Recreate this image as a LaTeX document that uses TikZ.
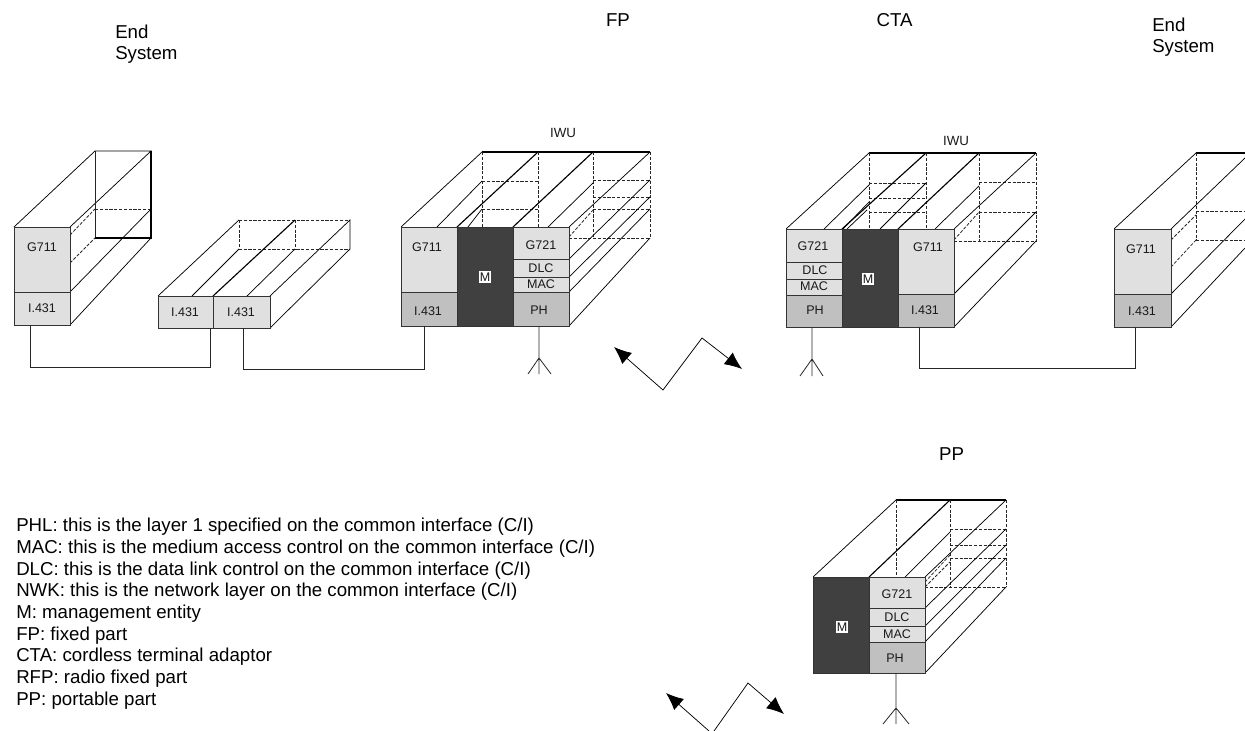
\documentclass[tikz,border=0pt]{standalone}
\usepackage{fontspec}
\setmainfont{Liberation Sans}
\usetikzlibrary{calc,arrows.meta}
\definecolor{lightg}{HTML}{E0E0E0}
\definecolor{midg}{HTML}{C0C0C0}
\definecolor{darkg}{HTML}{404040}
\tikzset{
  thin line/.style={line width=.55pt,black},
  heavy/.style={line width=.85pt,black},
  hid/.style={line width=.6pt,black!85,dash pattern=on 2.4pt off 1.2pt},
  wire/.style={line width=.6pt,black!85},
  zig/.style={line width=.55pt,black,{Latex[length=13pt,width=11pt]}-{Latex[length=13pt,width=11pt]}},
  layer/.style={draw=black!80,line width=.7pt,inner sep=0pt,outer sep=0pt},
  lab/.style={font=\fontsize{9.4pt}{10pt}\selectfont,inner sep=0pt,text=black!90},
  mlab/.style={font=\fontsize{9.4pt}{10pt}\selectfont,inner xsep=.8pt,inner ysep=1.6pt,fill=white,text=black!90},
  iwulab/.style={font=\fontsize{10pt}{10pt}\selectfont,inner sep=0pt,text=black!90},
  title/.style={font=\fontsize{14pt}{15.75pt}\selectfont,inner sep=0pt,align=left,anchor=west},
}
\newcommand{\lay}[6]{%
  \pgfmathsetmacro{\lw}{(#4-#2)*0.75}\pgfmathsetmacro{\lh}{(#5-#3)*0.75}%
  \pgfmathsetmacro{\lcx}{(#4+#2)/2}\pgfmathsetmacro{\lcy}{(#5+#3)/2}%
  \node[layer,fill=#6,minimum width=\lw pt,minimum height=\lh pt] (#1) at (\lcx,\lcy) {};}
\begin{document}
\begin{tikzpicture}[x=.75pt,y=-.75pt]
\useasboundingbox (0,0) rectangle (1245,731);

% titles
\node[title] (t1) at (115,44) {End\\System};
\node[title,anchor=center] (t2) at (618,20) {FP};
\node[title,anchor=center] (t3) at (894.5,20) {CTA};
\node[title] (t4) at (1152,37) {End\\System};
\node[title,anchor=center] (t5) at (951.5,454) {PP};
\node[iwulab] (iwu1) at (563,133) {IWU};
\node[iwulab] (iwu2) at (956,141) {IWU};

% --- End system, left
\draw[thin line] (14,227)--(95,151)--(151,151)--(70,227);
\draw[wire] (95,151)--(95,238);
\draw[heavy] (151,151)--(151,238)--(95,238);
\draw[hid] (95,209)--(151,209);
\draw[thin line] (70,292)--(151,209) (70,325)--(151,238);
\draw[hid] (70,235)--(95,209) (70,263)--(95,238);
\lay{e1g}{14}{227}{70}{292}{lightg}
\lay{e1i}{14}{292}{70}{325}{lightg}
\node[lab] (e1gt) at (42,247) {G711};
\node[lab] (e1it) at (42,308) {I.431};

% --- intermediate system
\draw[hid] (239,220)--(239,249)--(350,249) (295,220)--(295,249) (239,220)--(350,220);
\draw[thin line] (158,296)--(239,220) (270,296)--(350,220)--(350,249)--(270,328);
\draw[heavy] (213,296)--(295,220);
\draw[thin line] (192,296)--(239,249) (247,296)--(295,249);
\lay{m1}{158}{296}{213}{328}{lightg}
\lay{m2}{213}{296}{270}{328}{lightg}
\node[lab] (m1t) at (185,312) {I.431};
\node[lab] (m2t) at (241,312) {I.431};

% --- FP
\draw[heavy] (482,152)--(650,152);
\draw[hid] (482,152)--(482,227) (538,152)--(538,227) (593,152)--(593,238);
\draw[hid] (482,181)--(538,181) (482,209)--(538,209);
\draw[hid] (593,180)--(650,180) (593,197)--(650,197) (593,209)--(650,209) (569,238)--(650,238) (650,152)--(650,238);
\draw[thin line] (401,227)--(482,152) (569,227)--(650,152);
\draw[heavy] (457,227)--(538,152) (513,227)--(593,152);
\draw[thin line] (437,227)--(482,181) (468,227)--(482,209) (548,227)--(593,183);
\draw[hid] (569,237)--(593,210);
\draw[thin line] (569,259)--(650,180) (569,277)--(650,197) (569,292)--(650,209) (569,326)--(650,238);
\lay{f1}{401}{227}{457}{292}{lightg}
\lay{f2}{401}{292}{457}{326}{midg}
\lay{f3}{457}{227}{513}{326}{darkg}
\lay{f4}{513}{227}{569}{259}{lightg}
\lay{f5}{513}{259}{569}{277}{lightg}
\lay{f6}{513}{277}{569}{292}{lightg}
\lay{f7}{513}{292}{569}{326}{midg}
\node[lab] (f1t) at (427,247) {G711};
\node[lab] (f2t) at (428,311) {I.431};
\node[mlab] (f3t) at (485,277) {M};
\node[lab] (f4t) at (541,245) {G721};
\node[lab] (f5t) at (541,268) {DLC};
\node[lab] (f6t) at (541,284) {MAC};
\node[lab] (f7t) at (539,310) {PH};

% --- CTA
\draw[heavy] (869,153)--(1036,153);
\draw[hid] (869,153)--(869,229) (926,153)--(926,229) (979,153)--(979,241);
\draw[hid] (869,183)--(926,183) (869,198)--(926,198) (869,212)--(926,212);
\draw[hid] (979,182)--(1036,182) (979,212)--(1036,212) (954,241)--(1036,241) (1036,153)--(1036,241);
\draw[thin line] (786,229)--(869,153) (954,229)--(1036,153);
\draw[heavy] (842,229)--(926,153) (898,229)--(979,153);
\draw[thin line] (824,229)--(869,185) (843,229)--(869,202) (847,229)--(867,210) (880,229)--(926,183) (935,229)--(979,186);
\draw[hid] (954,240)--(979,212);
\draw[thin line] (954,294)--(1036,212) (954,327)--(1036,241);
\lay{c1}{786}{229}{842}{262}{lightg}
\lay{c2}{786}{262}{842}{279}{lightg}
\lay{c3}{786}{279}{842}{295}{lightg}
\lay{c4}{786}{295}{842}{327}{midg}
\lay{c5}{842}{229}{898}{327}{darkg}
\lay{c6}{898}{229}{954}{294}{lightg}
\lay{c7}{898}{294}{954}{327}{midg}
\node[lab] (c1t) at (813,246) {G721};
\node[lab] (c2t) at (815,270) {DLC};
\node[lab] (c3t) at (814,286) {MAC};
\node[lab] (c4t) at (815,310) {PH};
\node[mlab] (c5t) at (868,279) {M};
\node[lab] (c6t) at (928,247) {G711};
\node[lab] (c7t) at (925,310) {I.431};

% --- End system, right
\draw[heavy] (1196,153)--(1245,153);
\draw[hid] (1196,153)--(1196,240) (1196,211)--(1245,211) (1196,240)--(1245,240);
\draw[thin line] (1114,229)--(1196,153) (1171,229)--(1245,158) (1171,294)--(1245,219) (1171,327)--(1245,248);
\draw[hid] (1171,240)--(1196,215) (1171,267)--(1196,240);
\lay{e2g}{1114}{229}{1171}{294}{lightg}
\lay{e2i}{1114}{294}{1171}{327}{midg}
\node[lab] (e2gt) at (1141,249) {G711};
\node[lab] (e2it) at (1142,311) {I.431};

% --- PP
\draw[heavy] (896,500)--(1006,500);
\draw[hid] (896,500)--(896,577) (950,500)--(950,587);
\draw[hid] (950,529)--(1006,529) (950,545)--(1006,545) (950,558)--(1006,558) (925,587)--(1006,587) (1006,500)--(1006,587);
\draw[thin line] (813,577)--(896,500) (925,577)--(1006,500);
\draw[heavy] (869,577)--(950,500);
\draw[thin line] (905,577)--(950,532);
\draw[hid] (925,582)--(950,555) (925,587)--(950,562);
\draw[thin line] (925,608)--(1006,529) (925,626)--(1006,545) (925,642)--(1006,558) (925,673)--(1006,587);
\lay{p1}{813}{577}{869}{673}{darkg}
\lay{p2}{869}{577}{925}{608}{lightg}
\lay{p3}{869}{608}{925}{626}{lightg}
\lay{p4}{869}{626}{925}{642}{lightg}
\lay{p5}{869}{642}{925}{673}{midg}
\node[mlab] (p1t) at (842,627) {M};
\node[lab] (p2t) at (897,594) {G721};
\node[lab] (p3t) at (897,617) {DLC};
\node[lab] (p4t) at (897,634) {MAC};
\node[lab] (p5t) at (895,658) {PH};

% --- wires
\draw[wire] ($(e1i.south west)!.3!(e1i.south east)$) -- ++(0,42) -| ($(m1.south west)!.945!(m1.south east)$);
\draw[wire] ($(m2.south west)!.54!(m2.south east)$) -- ++(0,41) -| ($(f2.south west)!.41!(f2.south east)$);
\draw[wire] ($(c7.south west)!.375!(c7.south east)$) -- ++(0,41) -| ($(e2i.south west)!.37!(e2i.south east)$);

% --- antennas
\coordinate (fa) at (539,358); \coordinate (fal) at (528,374); \coordinate (far) at (551,374); \coordinate (fab) at (539,374);
\draw[wire] (f7.south -| fa) -- (fab) (fal) -- (fa) -- (far);
\coordinate (ca) at (812,359); \coordinate (cal) at (800,376); \coordinate (car) at (823,376); \coordinate (cab) at (812,376);
\draw[wire] (c4.south -| ca) -- (cab) (cal) -- (ca) -- (car);
\coordinate (pa) at (896,708); \coordinate (pal) at (883,724); \coordinate (par) at (909,724); \coordinate (pab) at (896,724);
\draw[wire] (p5.south -| pa) -- (pab) (pal) -- (pa) -- (par);

% --- radio links
\coordinate (z1) at (614,347); \coordinate (z2) at (663,390); \coordinate (z3) at (702,338); \coordinate (z4) at (742,369);
\draw[zig] (z1) -- (z2) -- (z3) -- (z4);
\coordinate (y1) at (666,693); \coordinate (y2) at (709,731);
\coordinate (y3) at (714,731); \coordinate (y4) at (748,683); \coordinate (y5) at (784,714);
\draw[line width=.55pt,black,{Latex[length=13pt,width=11pt]}-] (y1) -- (y2);
\draw[line width=.55pt,black,-{Latex[length=13pt,width=11pt]}] (y3) -- (y4) -- (y5);

% --- legend
\node[anchor=north west,inner sep=0pt,align=left,font=\fontsize{14pt}{16.25pt}\selectfont] (legend) at (16,518) {%
PHL: this is the layer 1 specified on the common interface (C/I)\\
MAC: this is the medium access control on the common interface (C/I)\\
DLC: this is the data link control on the common interface (C/I)\\
NWK: this is the network layer on the common interface (C/I)\\
M: management entity\\
FP: fixed part\\
CTA: cordless terminal adaptor\\
RFP: radio fixed part\\
PP: portable part};
\end{tikzpicture}
\end{document}
